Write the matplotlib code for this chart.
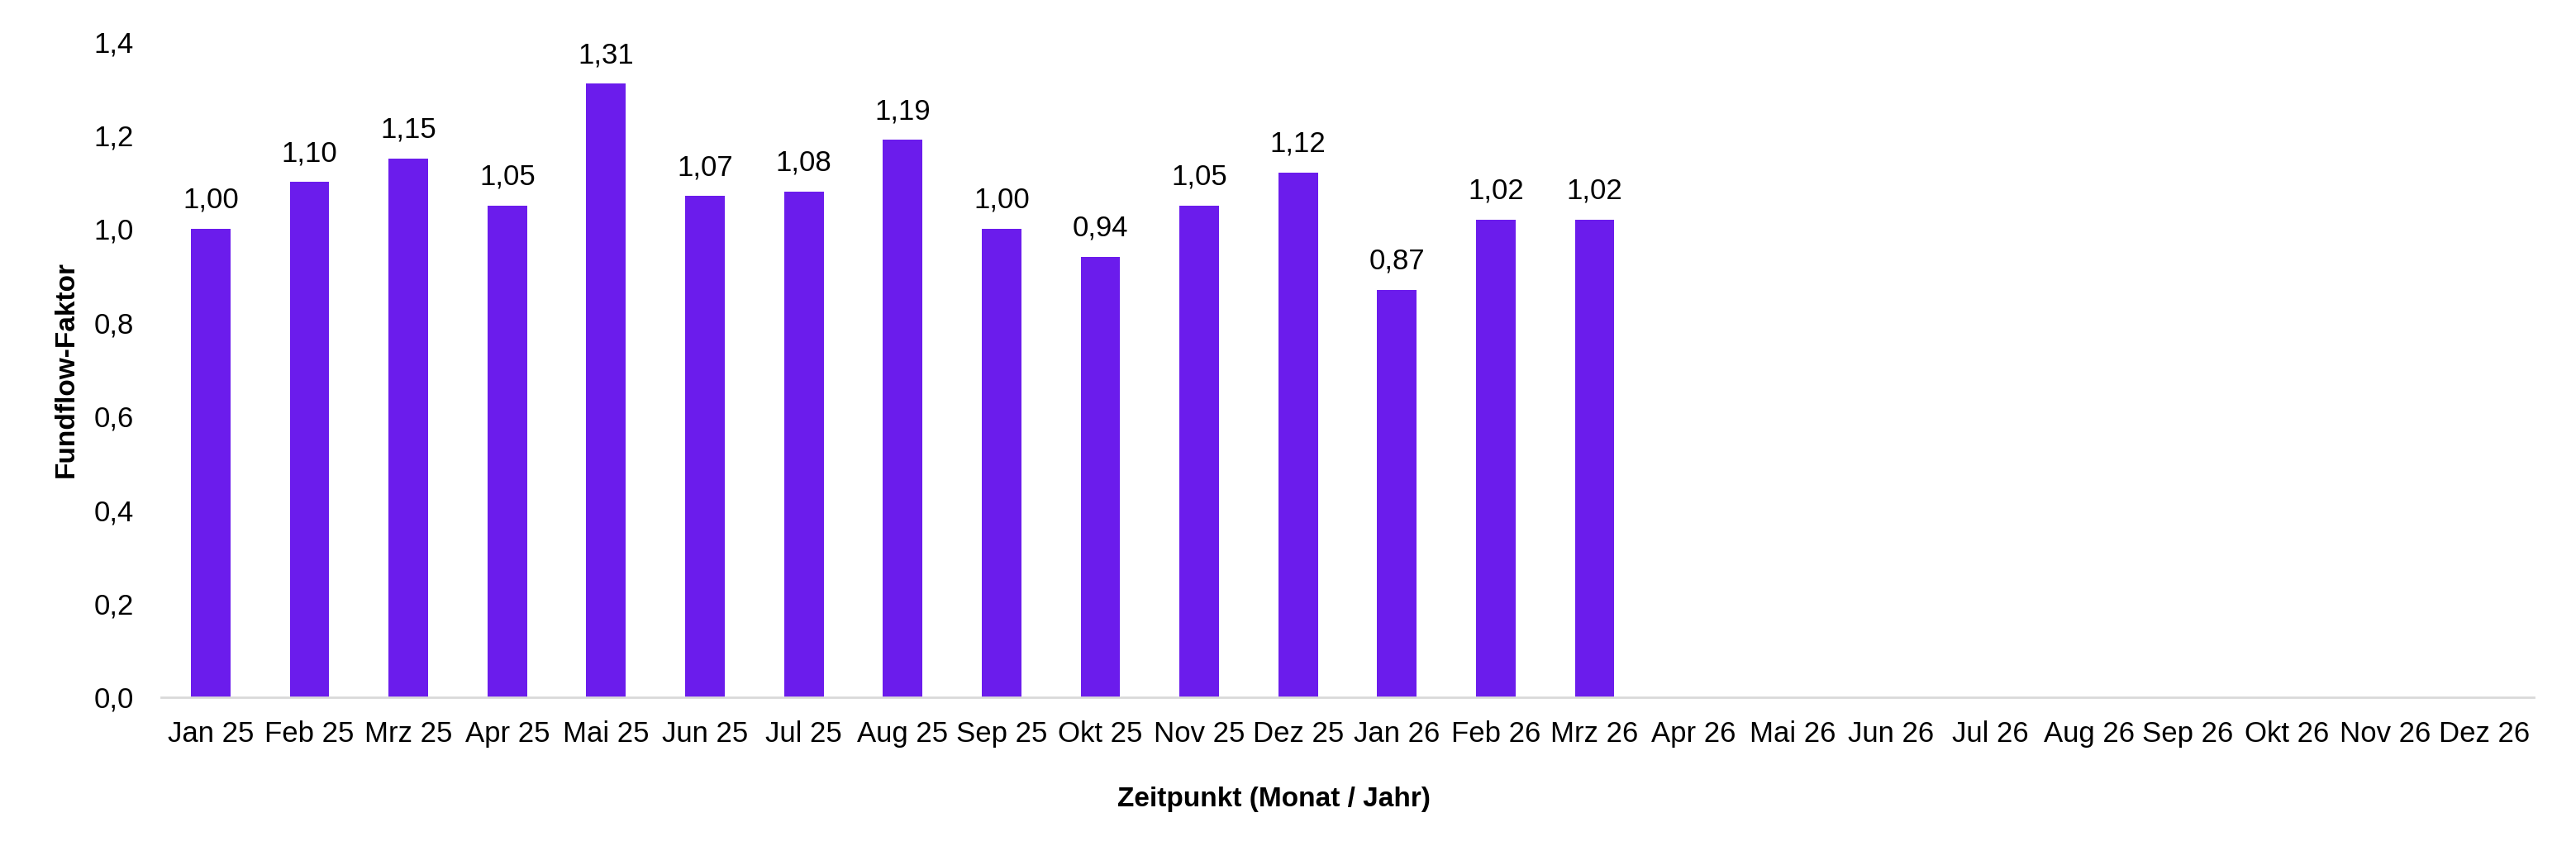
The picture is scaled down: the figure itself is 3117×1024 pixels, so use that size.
import matplotlib.pyplot as plt

months = ["Jan 25", "Feb 25", "Mrz 25", "Apr 25", "Mai 25", "Jun 25", "Jul 25", "Aug 25",
          "Sep 25", "Okt 25", "Nov 25", "Dez 25", "Jan 26", "Feb 26", "Mrz 26", "Apr 26",
          "Mai 26", "Jun 26", "Jul 26", "Aug 26", "Sep 26", "Okt 26", "Nov 26", "Dez 26"]
# only the first 15 months have a value
values = [1.00, 1.10, 1.15, 1.05, 1.31, 1.07, 1.08, 1.19, 1.00, 0.94, 1.05, 1.12, 0.87, 1.02, 1.02]
y_ticks = [0.0, 0.2, 0.4, 0.6, 0.8, 1.0, 1.2, 1.4]

plt.rcParams['font.family'] = 'Liberation Sans'

fig = plt.figure(figsize=(31.17, 10.24), dpi=100)
ax = fig.add_axes([0.0626, 0.176, 0.921, 0.775])

x = list(range(len(months)))
bars = ax.bar(x[:len(values)], values, width=0.4, color="#6B1CEC")
ax.bar_label(bars, labels=["{:.2f}".format(v).replace(".", ",") for v in values],
             padding=13, fontsize=25)

ax.set_xlim(-0.5, len(months) - 0.5)
ax.set_ylim(0, 1.4)
ax.set_xticks(x)
ax.set_xticklabels(months, fontsize=25)
ax.set_yticks(y_ticks)
ax.set_yticklabels(["{:.1f}".format(t).replace(".", ",") for t in y_ticks], fontsize=25)
ax.tick_params(axis='both', length=0)
ax.tick_params(axis='y', pad=24)
ax.tick_params(axis='x', pad=20)

for side in ['top', 'right', 'left']:
    ax.spines[side].set_visible(False)
ax.spines['bottom'].set_color("#D9D9D9")
ax.spines['bottom'].set_linewidth(2)

ax.set_xlabel("Zeitpunkt (Monat / Jahr)", fontsize=24, fontweight='bold')
ax.xaxis.set_label_coords(0.469, -0.137)
ax.set_ylabel("Fundflow-Faktor", fontsize=24, fontweight='bold', labelpad=13)

plt.savefig("out.png", dpi=100)
